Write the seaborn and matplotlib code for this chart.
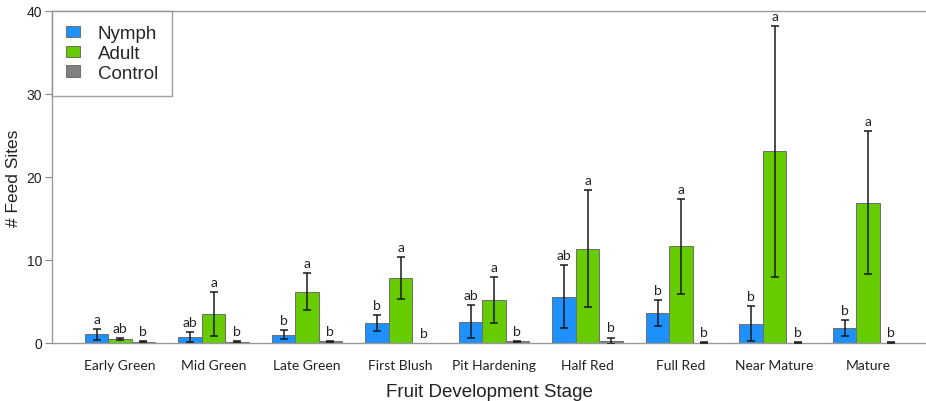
import matplotlib
matplotlib.use("Agg")
import matplotlib.pyplot as plt
import seaborn as sns
import pandas as pd
import numpy as np

# Fruit development stages (x categories)
stages = ["Early Green", "Mid Green", "Late Green", "First Blush", "Pit Hardening",
          "Half Red", "Full Red", "Near Mature", "Mature"]
groups = ["Nymph", "Adult", "Control"]

# Mean number of feed sites per group
nymph_mean = [1.05, 0.75, 1.0, 2.4, 2.55, 5.6, 3.65, 2.3, 1.8]
adult_mean = [0.45, 3.5, 6.2, 7.8, 5.15, 11.35, 11.65, 23.1, 16.9]
control_mean = [0.15, 0.15, 0.2, 0.0, 0.2, 0.25, 0.05, 0.05, 0.05]

# Standard errors
nymph_se = [0.65, 0.6, 0.55, 1.0, 2.0, 3.75, 1.55, 2.1, 0.95]
adult_se = [0.1, 2.6, 2.2, 2.55, 2.8, 7.05, 5.7, 15.1, 8.6]
control_se = [0.05, 0.05, 0.05, 0.0, 0.05, 0.4, 0.03, 0.03, 0.03]

# Significance letters
nymph_letters = ["a", "ab", "b", "b", "ab", "ab", "b", "b", "b"]
adult_letters = ["ab", "a", "a", "a", "a", "a", "a", "a", "a"]
control_letters = ["b", "b", "b", "b", "b", "b", "b", "b", "b"]

colors = {"Nymph": "#1e90ff", "Adult": "#66cc00", "Control": "#7f7f7f"}

df = pd.DataFrame({
    "stage": stages * 3,
    "group": ["Nymph"] * 9 + ["Adult"] * 9 + ["Control"] * 9,
    "value": nymph_mean + adult_mean + control_mean,
})
means = {"Nymph": nymph_mean, "Adult": adult_mean, "Control": control_mean}
ses = {"Nymph": nymph_se, "Adult": adult_se, "Control": control_se}
letters = {"Nymph": nymph_letters, "Adult": adult_letters, "Control": control_letters}

sns.set_theme(style="white")
plt.rcParams["font.family"] = ["Liberation Sans", "DejaVu Sans"]

fig = plt.figure(figsize=(9.26, 4.02), dpi=100)
ax = fig.add_axes([0.0562, 0.1443, 0.9438, 0.8259])

sns.barplot(data=df, x="stage", y="value", hue="group", order=stages,
            hue_order=groups, palette=colors, saturation=1, width=0.75, gap=0,
            errorbar=None, edgecolor="#6e6e6e", linewidth=0.7, ax=ax)

# Error bars and letters, positioned on each drawn bar
for container, g in zip(ax.containers, groups):
    for i, patch in enumerate(container.patches):
        xc = patch.get_x() + patch.get_width() / 2
        m = means[g][i]
        s = ses[g][i]
        if s > 0:
            ax.errorbar(xc, m, yerr=s, fmt="none", ecolor="#1a1a1a",
                        elinewidth=1.1, capsize=3, capthick=1.1, zorder=5)
        ax.text(xc, m + s + 0.5, letters[g][i], ha="center", va="bottom",
                fontsize=10, family=["Lato", "DejaVu Sans"], color="#222222")

ax.set_ylim(0, 40)
ax.set_xlim(-0.727, 8.62)
ax.set_yticks([0, 10, 20, 30, 40])
ax.tick_params(axis="y", labelsize=10, length=5, width=0.8, color="#888888",
               left=True, pad=2, labelcolor="#222222")
ax.tick_params(axis="x", length=0, pad=11.5)
for lbl in ax.get_xticklabels():
    lbl.set_family(["Lato", "DejaVu Sans"])
    lbl.set_fontsize(10)
    lbl.set_color("#222222")

ax.set_xlabel("Fruit Development Stage", fontsize=13.5, color="#222222", labelpad=8.5)
ax.set_ylabel("# Feed Sites", fontsize=12.5, color="#222222", labelpad=4)

for side in ["left", "bottom", "top"]:
    ax.spines[side].set_visible(True)
    ax.spines[side].set_color("#999999")
    ax.spines[side].set_linewidth(1.0)
ax.spines["right"].set_visible(False)

leg = ax.legend(loc="upper left", bbox_to_anchor=(0, 1), borderaxespad=0,
                frameon=True, fancybox=False, fontsize=13.5, handlelength=0.75,
                handleheight=0.55, handletextpad=0.95, labelspacing=0.15,
                borderpad=0.75, title=None)
leg.get_frame().set_edgecolor("#888888")
leg.get_frame().set_linewidth(1.0)

fig.savefig("out.png", dpi=100)
